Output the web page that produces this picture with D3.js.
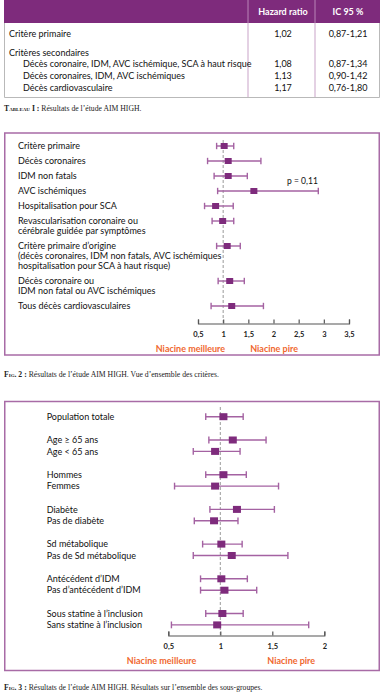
<!DOCTYPE html>
<html>
<head>
<meta charset="utf-8">
<script src="https://cdn.jsdelivr.net/npm/d3@7"></script>
<style>
  body { margin: 0; background: #fff; }
  svg { display: block; }
  text { font-family: Lato, "Open Sans", sans-serif; fill: #111; }
  .cap { font-family: "Liberation Serif", serif; font-size: 7.7px; fill: #222; }
</style>
</head>
<body>
<div id="chart"></div>
<script>
// --- Tableau I ---
var tablePrimary = "Critère primaire",
    tablePrimaryHR = "1,02",
    tablePrimaryCI = "0,87-1,21";
var tableSecondaryTitle = "Critères secondaires";
var tableSecondary = [
  "Décès coronaire, IDM, AVC ischémique, SCA à haut risque",
  "Décès coronaires, IDM, AVC ischémiques",
  "Décès cardiovasculaire"
];
var tableSecondaryHR = ["1,08", "1,13", "1,17"];
var tableSecondaryCI = ["0,87-1,34", "0,90-1,42", "0,76-1,80"];

// --- Fig. 2 ---
var fig2Labels = [
  ["Critère primaire"],
  ["Décès coronaires"],
  ["IDM non fatals"],
  ["AVC ischémiques"],
  ["Hospitalisation pour SCA"],
  ["Revascularisation coronaire ou", "cérébrale guidée par symptômes"],
  ["Critère primaire d’origine", "(décès coronaires, IDM non fatals, AVC ischémiques", "hospitalisation pour SCA à haut risque)"],
  ["Décès coronaire ou", "IDM non fatal ou AVC ischémiques"],
  ["Tous décès cardiovasculaires"]
];
var fig2HR = [1.02, 1.10, 1.10, 1.61, 0.85, 0.99, 1.08, 1.13, 1.17];
var fig2Low = [0.87, 0.69, 0.82, 0.89, 0.63, 0.78, 0.87, 0.90, 0.76];
var fig2High = [1.21, 1.75, 1.48, 2.89, 1.20, 1.21, 1.34, 1.42, 1.80];
var fig2Ticks = [0.5, 1, 1.5, 2, 2.5, 3, 3.5];

// --- Fig. 3 ---
var fig3Groups = [
  ["Population totale"],
  ["Age ≥ 65 ans", "Age < 65 ans"],
  ["Hommes", "Femmes"],
  ["Diabète", "Pas de diabète"],
  ["Sd métabolique", "Pas de Sd métabolique"],
  ["Antécédent d’IDM", "Pas d’antécédent d’IDM"],
  ["Sous statine à l’inclusion", "Sans statine à l’inclusion"]
];
var fig3HR = [1.03, 1.12, 0.95, 1.03, 0.95, 1.16, 0.94, 1.01, 1.11, 1.01, 1.04, 1.02, 0.97];
var fig3Low = [0.86, 0.89, 0.74, 0.86, 0.56, 0.90, 0.75, 0.83, 0.74, 0.81, 0.81, 0.86, 0.53];
var fig3High = [1.22, 1.44, 1.19, 1.25, 1.56, 1.52, 1.17, 1.21, 1.65, 1.26, 1.35, 1.22, 1.85];
var fig3Ticks = [0.5, 1, 1.5, 2];

var W = 384, H = 697;
var purple = "#7e2b7c", barCol = "#a462a2", boxCol = "#a86ba6", orange = "#f0682f";
var fmt = function (d) { return String(d).replace(".", ","); };

var svg = d3.select("#chart").append("svg")
    .attr("width", W)
    .attr("height", H);

// ================= Table =================
var tb = svg.append("g");
tb.append("rect").attr("x", 4).attr("y", 0).attr("width", 376).attr("height", 23).attr("fill", purple);
tb.append("path")
    .attr("d", "M4.5,23V97.5H379.5V23")
    .attr("fill", "none").attr("stroke", "#b9b9b9").attr("stroke-width", 1);
[248, 315].forEach(function (x) {
  tb.append("line").attr("x1", x).attr("x2", x).attr("y1", 0).attr("y2", 23)
      .attr("stroke", "#b985b7").attr("stroke-width", 1);
  tb.append("line").attr("x1", x).attr("x2", x).attr("y1", 23).attr("y2", 97)
      .attr("stroke", "#c9a3c8").attr("stroke-width", 1);
});
tb.append("text").attr("x", 283).attr("y", 12).attr("dy", "0.35em")
    .attr("text-anchor", "middle").style("font-weight", "bold").style("font-size", "9px")
    .style("fill", "#fff").text("Hazard ratio");
tb.append("text").attr("x", 348).attr("y", 12).attr("dy", "0.35em")
    .attr("text-anchor", "middle").style("font-weight", "bold").style("font-size", "9px")
    .style("fill", "#fff").text("IC 95 %");

function tableRow(y, label, indent, hr, ci) {
  tb.append("text").attr("x", indent ? 23 : 9).attr("y", y).attr("dy", "0.35em")
      .style("font-size", "9px").text(label);
  if (hr) {
    tb.append("text").attr("x", 283).attr("y", y).attr("dy", "0.35em")
        .attr("text-anchor", "middle").style("font-size", "9px").text(hr);
    tb.append("text").attr("x", 348).attr("y", y).attr("dy", "0.35em")
        .attr("text-anchor", "middle").style("font-size", "9px").text(ci);
  }
}
tableRow(34, tablePrimary, false, tablePrimaryHR, tablePrimaryCI);
tableRow(52.5, tableSecondaryTitle, false);
tableSecondary.forEach(function (d, i) {
  tableRow(64 + i * 11.8, d, true, tableSecondaryHR[i], tableSecondaryCI[i]);
});

function caption(y, head, rest) {
  var t = svg.append("text").attr("class", "cap").attr("x", 4).attr("y", y).attr("dy", "0.35em");
  t.append("tspan").style("font-weight", "bold").style("font-variant", "small-caps").text(head);
  t.append("tspan").text(rest);
}
caption(108, "Tableau I : ", "Résultats de l’étude AIM HIGH.");

// ================= Forest plot helper =================
function forest(opt) {
  var g = svg.append("g");
  g.append("rect").attr("x", 4.75).attr("y", opt.top).attr("width", 374.5).attr("height", opt.bottom - opt.top)
      .attr("fill", "none").attr("stroke", boxCol).attr("stroke-width", 1.5);

  var x = d3.scaleLinear().domain(opt.domain).range(opt.range);

  // reference line at HR = 1
  g.append("line").attr("x1", x(1)).attr("x2", x(1))
      .attr("y1", opt.refTop).attr("y2", opt.axisY)
      .attr("stroke", "#9a9a9a").attr("stroke-width", 1).attr("stroke-dasharray", "3,2");

  // labels
  opt.rows.forEach(function (r) {
    r.lines.forEach(function (l, j) {
      g.append("text").attr("x", opt.labelX).attr("y", r.y + j * opt.lineH).attr("dy", "0.35em")
          .style("font-size", opt.fontSize + "px").text(l);
    });
  });

  var row = g.selectAll(".row").data(opt.rows).enter().append("g").attr("class", "row");
  row.append("line")
      .attr("x1", function (d) { return x(d.lo); })
      .attr("x2", function (d) { return x(d.hi); })
      .attr("y1", function (d) { return d.y; })
      .attr("y2", function (d) { return d.y; })
      .attr("stroke", barCol).attr("stroke-width", 1.4);
  ["lo", "hi"].forEach(function (k) {
    row.append("line")
        .attr("x1", function (d) { return x(d[k]); })
        .attr("x2", function (d) { return x(d[k]); })
        .attr("y1", function (d) { return d.y - opt.cap; })
        .attr("y2", function (d) { return d.y + opt.cap; })
        .attr("stroke", barCol).attr("stroke-width", 1.4);
  });
  row.append("rect")
      .attr("x", function (d) { return x(d.hr) - opt.sqW / 2; })
      .attr("y", function (d) { return d.y - opt.sqH / 2; })
      .attr("width", opt.sqW).attr("height", opt.sqH)
      .attr("fill", purple);

  // axis
  var axis = d3.axisBottom(x).tickValues(opt.ticks).tickFormat(fmt)
      .tickSizeInner(-4).tickSizeOuter(-4).tickPadding(8);
  var ax = g.append("g").attr("transform", "translate(0," + opt.axisY + ")").call(axis);
  ax.select(".domain").attr("stroke", "#555").attr("stroke-width", 1.2);
  ax.selectAll(".tick line").attr("stroke", "#555").attr("stroke-width", 1.2);
  ax.selectAll(".tick text").style("font-family", "Lato, sans-serif")
      .style("font-size", "7.5px").style("font-weight", "bold").style("fill", "#222");

  g.append("text").attr("x", x(1) + opt.betterOff).attr("y", opt.axisY + 25).attr("dy", "0.35em")
      .attr("text-anchor", "end").style("font-size", "9px").style("font-weight", "bold")
      .style("fill", orange).text("Niacine meilleure");
  g.append("text").attr("x", x(1) + opt.worseOff).attr("y", opt.axisY + 25).attr("dy", "0.35em")
      .style("font-size", "9px").style("font-weight", "bold")
      .style("fill", orange).text("Niacine pire");
  return x;
}

// ================= Fig. 2 =================
var y2 = 146, rows2 = [];
fig2Labels.forEach(function (lines, i) {
  rows2.push({ lines: lines, y: y2, hr: fig2HR[i], lo: fig2Low[i], hi: fig2High[i] });
  y2 += 15 + 10 * (lines.length - 1);
});
var x2 = forest({
  top: 133, bottom: 355, refTop: 140, axisY: 323.5,
  domain: [0.5, 3.5], range: [198, 349], ticks: fig2Ticks,
  rows: rows2, labelX: 18, lineH: 10, fontSize: 9,
  sqW: 7, sqH: 6, cap: 3.2, betterOff: 2, worseOff: 27
});
svg.append("text").attr("x", x2(2.27)).attr("y", 181.5).attr("dy", "0.35em")
    .style("font-size", "8.5px").text("p = 0,11");
caption(374, "Fig. 2 : ", "Résultats de l’étude AIM HIGH. Vue d’ensemble des critères.");

// ================= Fig. 3 =================
var rows3 = [], k = 0;
fig3Groups.forEach(function (grp, gi) {
  grp.forEach(function (l) {
    rows3.push({ lines: [l], y: 416.7 + k * 11.4 + gi * 11.9, hr: fig3HR[k], lo: fig3Low[k], hi: fig3High[k] });
    k++;
  });
});
forest({
  top: 401.5, bottom: 670.5, refTop: 407, axisY: 635.5,
  domain: [0.5, 2], range: [168.3, 324.3], ticks: fig3Ticks,
  rows: rows3, labelX: 46.7, lineH: 10, fontSize: 9,
  sqW: 8, sqH: 7, cap: 3.4, betterOff: -24, worseOff: 47
});
caption(687, "Fig. 3 : ", "Résultats de l’étude AIM HIGH. Résultats sur l’ensemble des sous-groupes.");
</script>
</body>
</html>
